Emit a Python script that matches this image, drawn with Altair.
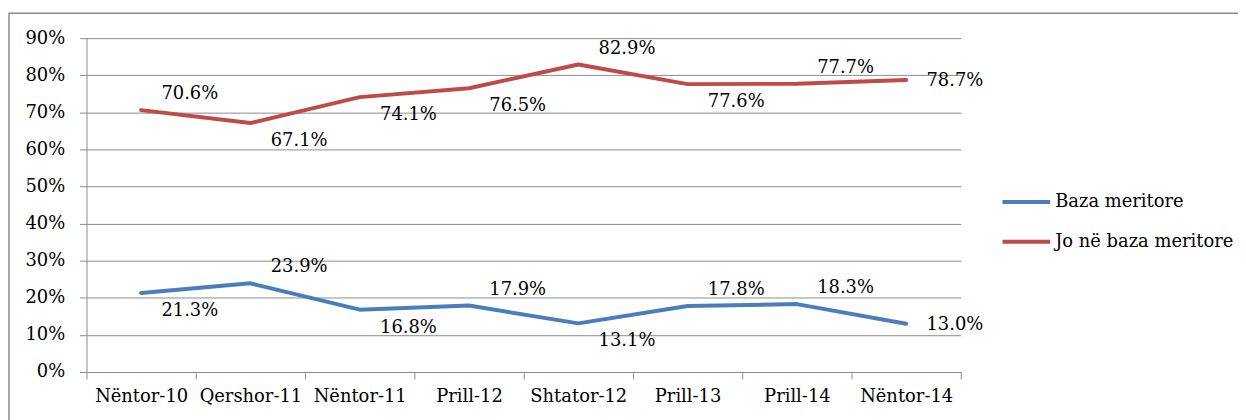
import altair as alt
import pandas as pd

categories = ["Nëntor-10", "Qershor-11", "Nëntor-11", "Prill-12",
              "Shtator-12", "Prill-13", "Prill-14", "Nëntor-14"]
series_names = ["Baza meritore", "Jo në baza meritore"]
baza = [21.3, 23.9, 16.8, 17.9, 13.1, 17.8, 18.3, 13.0]
jo_baza = [70.6, 67.1, 74.1, 76.5, 82.9, 77.6, 77.7, 78.7]
y_ticks = [0.0, 0.1, 0.2, 0.3, 0.4, 0.5, 0.6, 0.7, 0.8, 0.9]
# label placement relative to the point
baza_place = ["below", "above", "below", "above", "below", "above", "above", "mid"]
jo_place = ["above", "below", "below", "below", "above", "below", "above", "mid"]
colors = ["#4A7EBB", "#BE4B48"]

rows = []
for i, c in enumerate(categories):
    rows.append({"cat": c, "series": series_names[0], "v": baza[i] / 100,
                 "label": f"{baza[i]:.1f}%", "place": baza_place[i]})
    rows.append({"cat": c, "series": series_names[1], "v": jo_baza[i] / 100,
                 "label": f"{jo_baza[i]:.1f}%", "place": jo_place[i]})
df = pd.DataFrame(rows)

FONT = "DejaVu Serif"
GRID = "#8c8c8c"

x = alt.X("cat:N", sort=categories, title=None,
          scale=alt.Scale(paddingInner=0, paddingOuter=0),
          axis=alt.Axis(labelAngle=0, tickBand="extent", grid=False,
                        tickSize=7, labelPadding=9))
y = alt.Y("v:Q", title=None,
          scale=alt.Scale(domain=[0, 0.9], nice=False),
          axis=alt.Axis(format=".0%", values=y_ticks, tickCount=10,
                        grid=True, tickSize=7, labelPadding=15))
color = alt.Color("series:N", sort=series_names,
                  scale=alt.Scale(domain=series_names, range=colors),
                  legend=alt.Legend(title=None, orient="none", legendX=920,
                                    legendY=139, symbolType="stroke",
                                    symbolSize=2304, symbolStrokeWidth=4,
                                    labelOffset=3, rowPadding=5,
                                    labelLimit=0))

base = alt.Chart(df).encode(x=x, y=y)

frame = alt.Chart(pd.DataFrame({"a": [0]})).mark_rect(
    fill=None, stroke="#8c8c8c", strokeWidth=1.5
).encode(x=alt.value(-78), x2=alt.value(1200), y=alt.value(-25), y2=alt.value(420))

lines = base.mark_line(strokeWidth=4, strokeCap="round",
                       strokeJoin="round").encode(color=color)

def labels(place, dy):
    return base.transform_filter(
        alt.datum.place == place
    ).mark_text(dx=49, dy=dy, fontSize=18, font=FONT, color="#000000",
                align="center", baseline="middle").encode(text="label:N")

chart = alt.layer(
    lines, labels("above", -16), labels("below", 18), labels("mid", 1), frame
).properties(
    width=880, height=336,
    autosize=alt.AutoSizeParams(type="none"),
    padding={"left": 79, "top": 29, "right": 279, "bottom": 47}
).configure_view(stroke=None).configure_axis(
    labelFont=FONT, labelFontSize=18, labelColor="#000000",
    domainColor=GRID, tickColor=GRID, gridColor=GRID, labelOverlap=False
).configure_legend(
    labelFont=FONT, labelFontSize=18, labelColor="#000000"
).configure_text(font=FONT)

chart.save("out.html", embed_options={"renderer": "svg", "actions": False})
